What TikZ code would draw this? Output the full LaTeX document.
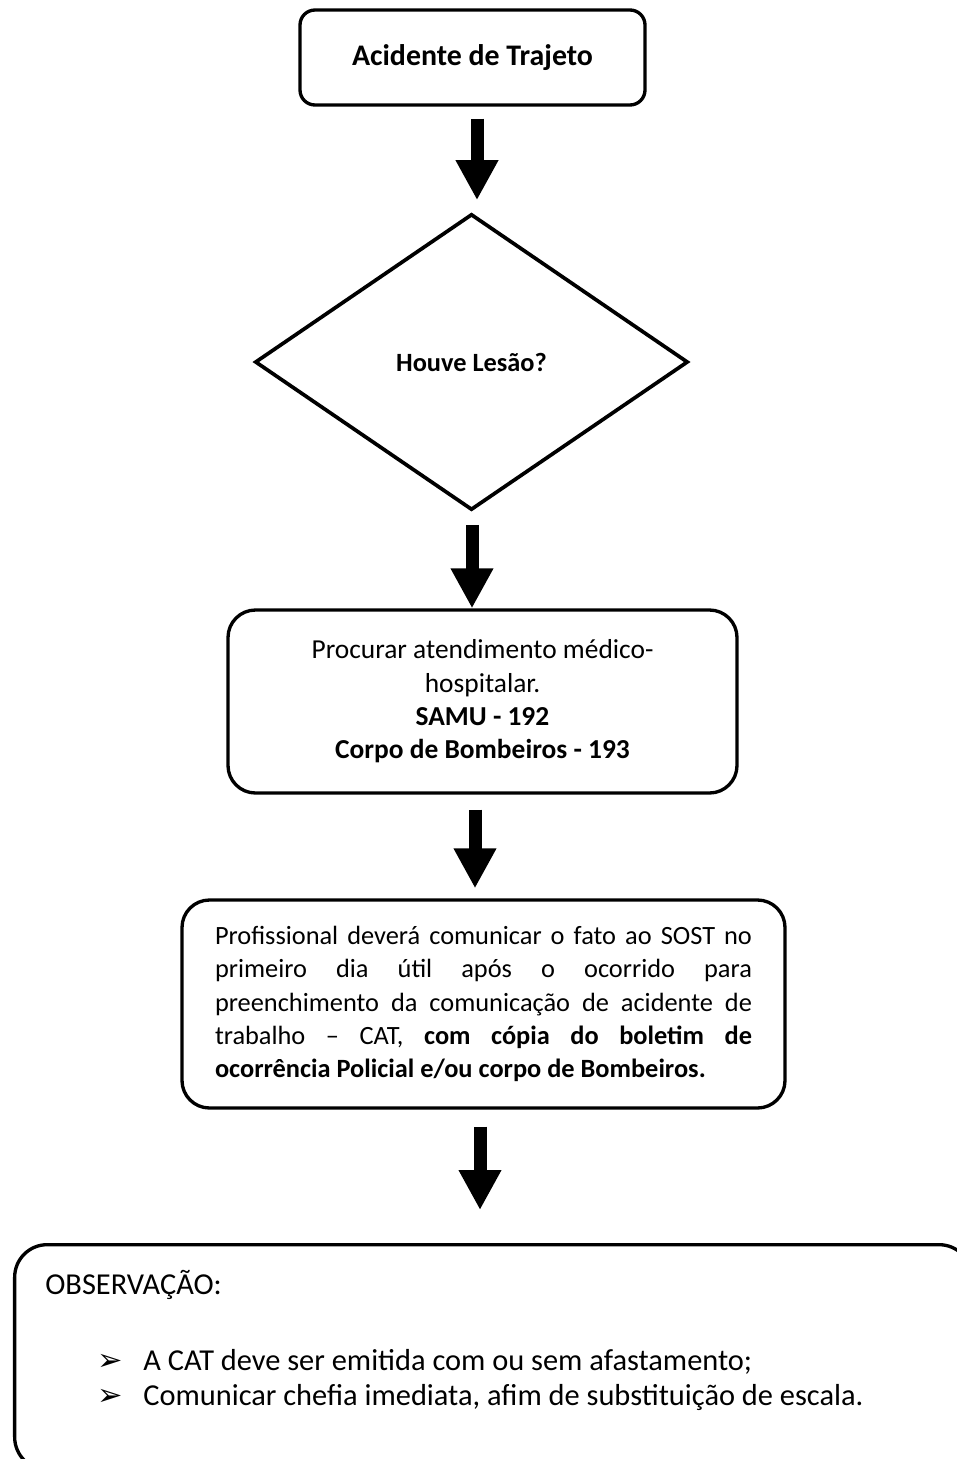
\documentclass[tikz,border=0pt]{standalone}
\usepackage{fontspec}
\setmainfont{Carlito}
\newfontfamily\symfont{DejaVu Sans}
\usetikzlibrary{positioning,shapes.geometric,arrows.meta}

\tikzset{
  caixa/.style={draw, line width=1.9pt, rounded corners=0.55cm, align=center,
    font=\fontsize{15}{19}\selectfont},
  decisao/.style={draw, diamond, line width=2.1pt, inner sep=0pt,
    minimum width=8.66cm, minimum height=5.92cm,
    font=\fontsize{15}{19}\selectfont\bfseries},
  seta/.style={line width=0.26cm, -{Triangle[width=0.8cm,length=0.8cm]}},
  texto/.style={anchor=base west, inner sep=0pt, font=\fontsize{17.3}{20}\selectfont},
}

\begin{document}
\begin{tikzpicture}
\useasboundingbox (0,0) rectangle (19.14,-29.18);
\clip (0,0) rectangle (19.14,-29.18);

% Inicio
\node[caixa, minimum width=6.9cm, minimum height=1.9cm, rounded corners=0.3cm,
  font=\fontsize{17}{20}\selectfont\bfseries] (inicio) at (9.45,-1.15) {Acidente de Trajeto};

% Decisao
\node[decisao] (lesao) at (9.43,-7.24) {Houve Lesão?};

% Atendimento
\node[caixa, minimum width=10.18cm, minimum height=3.66cm,
  font=\fontsize{15.6}{19}\selectfont] (atend) at (9.65,-14.03)
  {Procurar atendimento médico-\\hospitalar.\\\textbf{SAMU - 192}\\\textbf{Corpo de Bombeiros - 193}};

% Comunicacao ao SOST
\node[caixa, text width=10.74cm, minimum height=4.16cm, inner xsep=0.66cm,
  align=justify] (sost) at (9.67,-20.08)
  {Profissional deverá comunicar o fato ao SOST no\linebreak
   primeiro dia útil após o ocorrido para\linebreak
   preenchimento da comunicação de acidente de\linebreak
   trabalho -- CAT, \textbf{com cópia do boletim de\linebreak
   ocorrência Policial e/ou corpo de Bombeiros.}};

% Observacao
\node[caixa, minimum width=19.14cm, minimum height=4.5cm, rounded corners=0.65cm,
  anchor=north west] (obsbox) at (0.26,-24.86) {};
\node[texto] (obs) at (0.9,-25.88) {OBSERVAÇÃO:};
\node[texto] (item1) at (1.94,-27.4)
  {\makebox[0.92cm][l]{\symfont ➢}A CAT deve ser emitida com ou sem afastamento;};
\node[texto] (item2) at (1.94,-28.1)
  {\makebox[0.92cm][l]{\symfont ➢}Comunicar chefia imediata, afim de substituição de escala.};

% Setas
\draw[seta, shorten <=0.24cm, shorten >=0.24cm]
  ([xshift=0.09cm]inicio.south) -- ([xshift=0.09cm]inicio.south |- lesao.north);
\draw[seta, shorten <=0.26cm]
  ([xshift=0.01cm]lesao.south) -- ([xshift=0.01cm]lesao.south |- atend.north);
\draw[seta, shorten <=0.3cm, shorten >=0.2cm]
  ([xshift=-0.15cm]atend.south) -- ([xshift=-0.15cm]atend.south |- sost.north);
\draw[seta, shorten <=0.34cm, shorten >=0.66cm]
  ([xshift=-0.07cm]sost.south) -- ([xshift=-0.07cm]sost.south |- obsbox.north);
\end{tikzpicture}
\end{document}
